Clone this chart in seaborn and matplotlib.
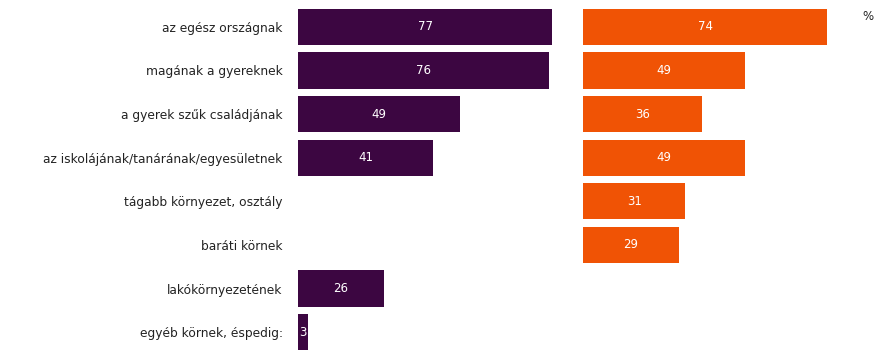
import matplotlib
matplotlib.use('Agg')
import matplotlib.pyplot as plt
import numpy as np
import pandas as pd
import seaborn as sns

categories = [
    'az egész országnak',
    'magának a gyereknek',
    'a gyerek szűk családjának',
    'az iskolájának/tanárának/egyesületnek',
    'tágabb környezet, osztály',
    'baráti körnek',
    'lakókörnyezetének',
    'egyéb körnek, éspedig:',
]
left_values = [77, 76, 49, 41, np.nan, np.nan, 26, 3]
right_values = [74, 49, 36, 49, 31, 29, np.nan, np.nan]

purple = '#3c0641'
orange = '#f05305'

sns.set_theme(style='white')
plt.rcParams['font.family'] = ['DejaVu Sans']

fig = plt.figure(figsize=(8.88, 3.59), dpi=100)
ax_l = fig.add_axes([0.3356, 0.014, 0.2973, 0.972])
ax_r = fig.add_axes([0.6565, 0.014, 0.2973, 0.972])

df_l = pd.DataFrame({'kat': categories, 'ertek': left_values})
df_r = pd.DataFrame({'kat': categories, 'ertek': right_values})

for ax, df, col in [(ax_l, df_l, purple), (ax_r, df_r, orange)]:
    sns.barplot(data=df.dropna(), x='ertek', y='kat', order=categories,
                color=col, saturation=1, width=0.83, linewidth=0, ax=ax)
    ax.set_xlim(0, 80)
    ax.set_xlabel('')
    ax.set_ylabel('')
    ax.set_xticks([])
    for s in ax.spines.values():
        s.set_visible(False)
    for cont in ax.containers:
        ax.bar_label(cont, labels=[f'{v:.0f}' for v in cont.datavalues],
                     label_type='center', color='white', fontsize=8.5)

ax_l.tick_params(axis='y', length=0, pad=11, labelsize=8.8, labelcolor='#222222')
ax_r.set_yticks([])

fig.text(0.977, 0.953, '%', fontsize=8.5, color='#222222', ha='center', va='center')

fig.savefig('out.png', dpi=100)
